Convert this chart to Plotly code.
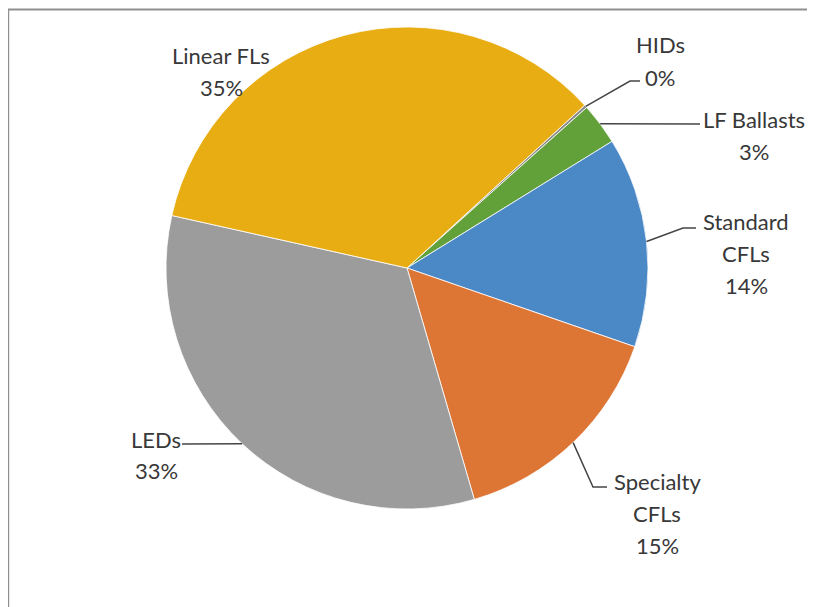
import math
import plotly.graph_objects as go

# ---- data ----
categories = ["HIDs", "LF Ballasts", "Standard CFLs", "Specialty CFLs", "LEDs", "Linear FLs"]
shares = [0.2, 2.8, 14.1, 15.2, 33.0, 34.7]
label_lines = [["HIDs"], ["LF Ballasts"], ["Standard", "CFLs"], ["Specialty", "CFLs"], ["LEDs"], ["Linear FLs"]]

# ---- styles / layout ----
W, H = 815, 607
OFF = 8  # page offset of the figure (body margin)
colors = ["#8a8a8a", "#62A03A", "#4A88C6", "#DD7535", "#9C9C9C", "#E9AD14"]
CX, CY, R = 407, 268, 241
ROT = 47.5
FONT = "Lato"
FS = 22
TXT = "#383838"
LINE_C = "#454545"
LINE_GAP = 32

# label block centers (page px), elbow points and line end (page px) per category
label_pos = {
    "HIDs": (660, 61),
    "LF Ballasts": (754, 136),
    "Standard CFLs": (746, 253),
    "Specialty CFLs": (657, 513),
    "LEDs": (156, 455),
    "Linear FLs": (221, 71),
}
leader = {
    "HIDs": [(630, 81), (640, 81)],
    "LF Ballasts": [(700, 124)],
    "Standard CFLs": [(683, 228), (696, 228)],
    "Specialty CFLs": [(593, 487), (607, 487)],
    "LEDs": [(182, 444)],
    "Linear FLs": None,
}


def px(x):
    return (x - OFF) / W


def py(y):
    return 1 - (y - OFF) / H


fig = go.Figure(go.Pie(
    labels=categories,
    values=shares,
    sort=False,
    direction="clockwise",
    rotation=ROT,
    marker=dict(colors=colors, line=dict(color="rgba(255,255,255,0.8)", width=1)),
    textinfo="none",
    hoverinfo="label+percent",
    showlegend=False,
    domain=dict(x=[px(CX - R), px(CX + R)], y=[py(CY + R), py(CY - R)]),
))

total = sum(shares)
annotations = []
shapes = []
cum = 0.0
for cat, val, lines in zip(categories, shares, label_lines):
    mid = ROT + 360 * (cum + val / 2) / total
    cum += val
    a = math.radians(mid)
    ax, ay = CX + R * math.sin(a), CY - R * math.cos(a)
    pct = f"{round(100 * val / total):d}%"
    all_lines = lines + [pct]
    bx, by = label_pos[cat]
    n = len(all_lines)
    for i, t in enumerate(all_lines):
        yy = by + (i - (n - 1) / 2) * LINE_GAP
        annotations.append(dict(
            x=px(bx), y=py(yy), xref="paper", yref="paper",
            text=t, showarrow=False, xanchor="center", yanchor="middle",
            font=dict(family=FONT, size=FS, color=TXT),
        ))
    if leader[cat]:
        pts = [(ax, ay)] + leader[cat]
        path = "M " + " L ".join(f"{px(x):.5f},{py(y):.5f}" for x, y in pts)
        shapes.append(dict(type="path", path=path, xref="paper", yref="paper",
                           line=dict(color=LINE_C, width=1.5)))

# chart frame
shapes.append(dict(type="rect", xref="paper", yref="paper",
                   x0=px(8.2), y0=py(660), x1=px(880), y1=py(9.5),
                   line=dict(color="#8f8f8f", width=2), fillcolor="rgba(0,0,0,0)"))

fig.update_layout(
    width=W, height=H,
    margin=dict(l=0, r=0, t=0, b=0),
    paper_bgcolor="white",
    plot_bgcolor="white",
    annotations=annotations,
    shapes=shapes,
)

fig.write_html("out.html", post_script="document.body.style.overflow='hidden';")
